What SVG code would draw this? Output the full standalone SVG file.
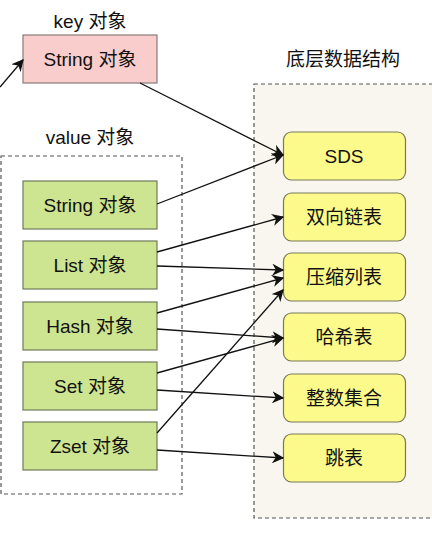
<svg xmlns="http://www.w3.org/2000/svg" width="432" height="556" viewBox="0 0 432 556">
<style>
text{font-family:"Liberation Sans","Noto Sans CJK SC",sans-serif;font-size:19px;fill:#111;text-anchor:middle}
.pink{fill:#f8cdcc;stroke:#8a7a7a;stroke-width:1.2}
.green{fill:#cde590;stroke:#6f7a5c;stroke-width:1.2}
.yellow{fill:#fdfa8c;stroke:#7a7a5a;stroke-width:1.2}
.dash{fill:none;stroke:#555;stroke-width:1.2;stroke-dasharray:4 3}
.edge{fill:none;stroke:#111;stroke-width:1.3;marker-end:url(#arr)}
</style>
<defs>
<marker id="arr" viewBox="0 0 10 10" refX="9" refY="5" markerWidth="12" markerHeight="12" markerUnits="userSpaceOnUse" orient="auto">
<path d="M0,0 L10,5 L0,10 L3,5 z" fill="#111"/>
</marker>
</defs>
<rect x="0" y="0" width="432" height="556" fill="#fff"/>
<g id="containers">
<rect x="254" y="84" width="200" height="434" fill="#f8f6ee" stroke="#555" stroke-width="1.2" stroke-dasharray="4 3"/>
<rect class="dash" x="1" y="156" width="181" height="338"/>
<text x="90" y="28">key 对象</text>
<text x="90" y="144">value 对象</text>
<text x="343" y="66">底层数据结构</text>
</g>
<g id="key-string"><rect class="pink" x="23" y="35" width="134" height="48"/><text x="90" y="66">String 对象</text></g>
<g id="v-string"><rect class="green" x="23" y="181" width="134" height="48"/><text x="90" y="212">String 对象</text></g>
<g id="v-list"><rect class="green" x="23" y="241" width="134" height="48"/><text x="90" y="272">List 对象</text></g>
<g id="v-hash"><rect class="green" x="23" y="302" width="134" height="48"/><text x="90" y="333">Hash 对象</text></g>
<g id="v-set"><rect class="green" x="23" y="362" width="134" height="48"/><text x="90" y="393">Set 对象</text></g>
<g id="v-zset"><rect class="green" x="23" y="422" width="134" height="48"/><text x="90" y="453">Zset 对象</text></g>
<g id="sds"><rect class="yellow" x="283.5" y="132" width="122" height="48" rx="8"/><text x="344" y="163">SDS</text></g>
<g id="linkedlist"><rect class="yellow" x="283.5" y="193" width="122" height="48" rx="8"/><text x="344" y="224">双向链表</text></g>
<g id="ziplist"><rect class="yellow" x="283.5" y="253" width="122" height="48" rx="8"/><text x="344" y="284">压缩列表</text></g>
<g id="hashtable"><rect class="yellow" x="283.5" y="313" width="122" height="48" rx="8"/><text x="344" y="344">哈希表</text></g>
<g id="intset"><rect class="yellow" x="283.5" y="374" width="122" height="48" rx="8"/><text x="344" y="405">整数集合</text></g>
<g id="skiplist"><rect class="yellow" x="283.5" y="434" width="122" height="48" rx="8"/><text x="344" y="465">跳表</text></g>
<g id="connectors">
<path class="edge" d="M0,87 L23,60"/>
<path class="edge" d="M140,83 L283,155"/>
<path class="edge" d="M157,204 L283,155"/>
<path class="edge" d="M157,252 L283,217"/>
<path class="edge" d="M157,266 L283,270"/>
<path class="edge" d="M157,313 L283,278"/>
<path class="edge" d="M157,329 L283,338"/>
<path class="edge" d="M157,373 L283,338"/>
<path class="edge" d="M157,390 L283,398"/>
<path class="edge" d="M157,433 L283,290"/>
<path class="edge" d="M157,450 L283,458"/>
</g>
</svg>
